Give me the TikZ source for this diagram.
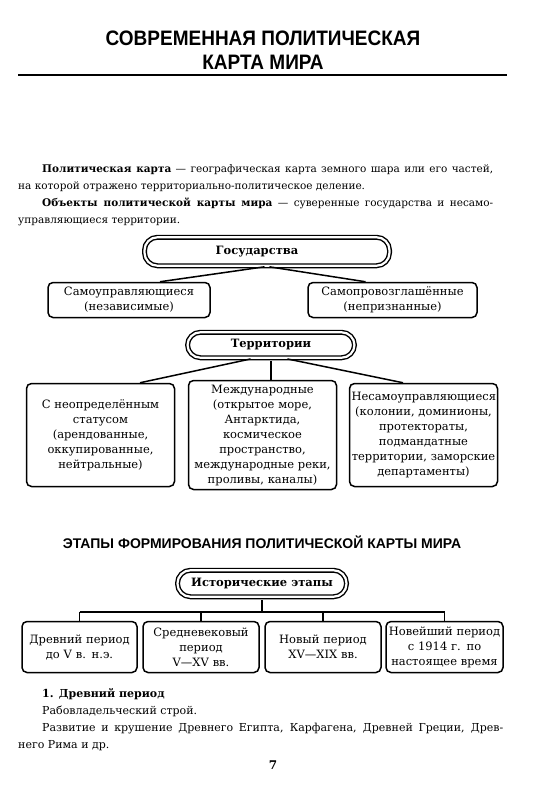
\documentclass[tikz,border=0pt]{standalone}
\usepackage{graphicx}
\usepackage{fontspec}
\setmainfont{DejaVu Serif}
\newfontfamily\headfont{Liberation Sans}
\usetikzlibrary{positioning}
\newcommand{\bodytext}{\fontsize{10.5}{17}\selectfont}
\newcommand{\boxtext}{\fontsize{11.5}{15}\selectfont}
\newcommand{\tallcaps}[1]{\scalebox{1}[1.1]{#1}}
\tikzset{
 every node/.append style={text=black},
 heading/.style={font=\headfont\bfseries\fontsize{19}{24}\selectfont,inner sep=0pt},
 subheading/.style={font=\headfont\bfseries\fontsize{14}{18}\selectfont,inner sep=0pt},
 para/.style={font=\bodytext,text width=475pt,align=justify,inner sep=0pt,anchor=north west},
 box/.style={draw,line width=1.5pt,rounded corners=5pt,inner xsep=2pt,inner ysep=1pt,align=center,font=\boxtext},
 oval/.style={draw,line width=1.4pt,double,double distance=2.2pt,rounded corners=13pt,font=\boxtext\bfseries,inner sep=0pt},
 link/.style={line width=1.5pt},
 fromoval/.style={link,shorten <=2.5pt},
}

\begin{document}
\begin{tikzpicture}[x=1pt,y=-1pt]
\useasboundingbox (0,0) rectangle (555,800);

\node[heading] (title) at (263,38) {\tallcaps{СОВРЕМЕННАЯ ПОЛИТИЧЕСКАЯ}};
\node[heading] (title2) at (263,62) {\tallcaps{КАРТА МИРА}};
\draw[line width=2.5pt] (18,75) -- (507,75);

\node[para] (intro) at (18,164.5) {\hspace*{24pt}\textbf{Политическая карта} — географическая карта земного шара или его частей,\linebreak
  на которой отражено территориально-политическое деление.\par
  \hspace*{24pt}\textbf{Объекты политической карты мира} — суверенные государства и несамо-\linebreak
  управляющиеся территории.};

% states
\node[oval,minimum width=245pt,minimum height=28.5pt] (gos) at (267,251.5) {\hspace*{-20pt}Государства};
\node[box,text width=158pt,minimum height=35pt] (samo) at (129,300) {Самоуправляющиеся\\(независимые)};
\node[box,text width=165pt,minimum height=35pt] (samopro) at (392.5,300) {Самопровозглашённые\\(непризнанные)};
\draw[fromoval] (gos.south) -- ([xshift=31pt]samo.north);
\draw[fromoval] (gos.south) -- ([xshift=-27pt]samopro.north);

% territories
\node[oval,minimum width=167pt,minimum height=25.5pt] (terr) at (271,345) {Территории};
\node[box,text width=144pt,minimum height=103pt] (neopr) at (100.5,435)
  {С неопределённым\\статусом\\(арендованные,\\оккупированные,\\нейтральные)};
\node[box,text width=144pt,minimum height=109pt] (mezhd) at (262.5,435)
  {Международные\\(открытое море,\\Антарктида,\\космическое\\пространство,\\международные реки,\\проливы, каналы)};
\node[box,text width=144pt,minimum height=103pt] (nesamo) at (423.5,435)
  {Несамоуправляющиеся\\(колонии, доминионы,\\протектораты,\\подмандатные\\территории, заморские\\департаменты)};
\draw[fromoval] ([xshift=-18pt]terr.south) -- ([xshift=39.5pt]neopr.north);
\draw[fromoval] (terr.south) -- (terr.south |- mezhd.north);
\draw[fromoval] ([xshift=14pt]terr.south) -- ([xshift=-20.5pt]nesamo.north);

\node[subheading] (stagestitle) at (262,542) {ЭТАПЫ ФОРМИРОВАНИЯ ПОЛИТИЧЕСКОЙ КАРТЫ МИРА};

% stages
\node[oval,minimum width=169pt,minimum height=26.5pt] (ist) at (262,583.5) {Исторические этапы};
\node[box,text width=111pt,minimum height=51pt] (ancient) at (79.5,647) {Древний период\\до V в. н.э.};
\node[box,text width=112pt,minimum height=51pt] (medieval) at (201,647) {Средневековый\\период\\V—XV вв.};
\node[box,text width=112pt,minimum height=51pt] (modern) at (323,647) {Новый период\\XV—XIX вв.};
\node[box,text width=113pt,minimum height=51pt] (newest) at (444.5,647) {Новейший период\\с 1914 г. по\\настоящее время};
\coordinate (bus) at (262,612);
\draw[fromoval] (ist.south) -- (bus);
\draw[link] (ancient.north |- bus) -- (newest.north |- bus);
\foreach \n in {ancient,medieval,modern,newest}
  \draw[link] (\n.north) -- (\n.north |- bus);

\node[para,text width=485pt,font=\fontsize{11}{17}\selectfont] (ancienttext) at (18,688) {\hspace*{24pt}\textbf{1. Древний период}\par
  \hspace*{24pt}Рабовладельческий строй.\par
  \hspace*{24pt}Развитие и крушение Древнего Египта, Карфагена, Древней Греции, Древ-\linebreak
  него Рима и др.};

\node[font=\bfseries\fontsize{12}{14}\selectfont] (page) at (273,765) {7};
\end{tikzpicture}
\end{document}
